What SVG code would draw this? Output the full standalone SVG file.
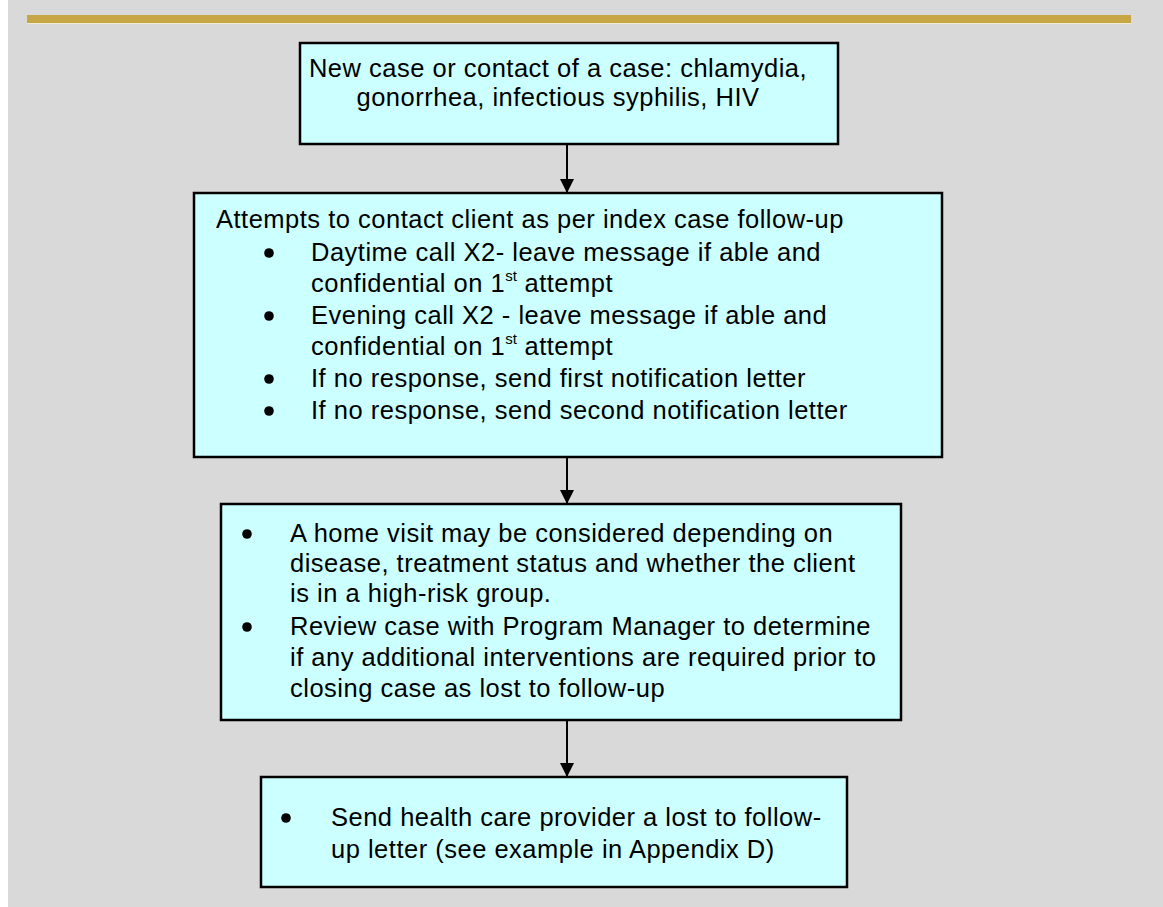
<svg xmlns="http://www.w3.org/2000/svg" width="1163" height="907" viewBox="0 0 1163 907">
<defs>
<style>
.box{fill:#ccffff;stroke:#000;stroke-width:2.5}
.t{font-family:"Liberation Sans",Arial,sans-serif;font-size:25.5px;letter-spacing:0.5px;fill:#000}
.c{text-anchor:middle}
.sup{font-size:15px;letter-spacing:0}
.blt{fill:#000}
.conn{stroke:#000;stroke-width:2;fill:none;marker-end:url(#ah)}
</style>
<marker id="ah" viewBox="0 0 10 10" refX="10" refY="5" markerWidth="7" markerHeight="7" markerUnits="strokeWidth" orient="auto">
<path d="M0,0 L10,5 L0,10 z" fill="#000"/>
</marker>
</defs>
<rect x="0" y="0" width="1163" height="907" fill="#ffffff"/>
<rect x="8" y="0" width="1155" height="907" fill="#d9d9d9"/>
<rect x="27" y="15" width="1104" height="8" fill="#c6a645"/>
<rect x="27" y="23" width="1104" height="1" fill="#efe9d2"/>

<g id="connectors">
<line class="conn" x1="567" y1="144" x2="567" y2="193"/>
<line class="conn" x1="567" y1="457" x2="567" y2="504"/>
<line class="conn" x1="567" y1="720" x2="567" y2="777"/>
</g>

<g id="node1">
<rect class="box" x="300" y="43" width="538" height="101"/>
<text class="t c" x="558" y="77">New case or contact of a case: chlamydia,</text>
<text class="t c" x="558" y="106">gonorrhea, infectious syphilis, HIV</text>
</g>

<g id="node2">
<rect class="box" x="194" y="193" width="748" height="264"/>
<text class="t" x="216" y="228">Attempts to contact client as per index case follow-up</text>
<circle class="blt" cx="269" cy="253" r="4.8"/>
<text class="t" x="311" y="261">Daytime call X2- leave message if able and</text>
<text class="t" x="311" y="292">confidential on 1<tspan class="sup" dy="-11">st</tspan><tspan dy="11"> attempt</tspan></text>
<circle class="blt" cx="269" cy="316" r="4.8"/>
<text class="t" x="311" y="324">Evening call X2 - leave message if able and</text>
<text class="t" x="311" y="355">confidential on 1<tspan class="sup" dy="-11">st</tspan><tspan dy="11"> attempt</tspan></text>
<circle class="blt" cx="269" cy="379" r="4.8"/>
<text class="t" x="311" y="387">If no response, send first notification letter</text>
<circle class="blt" cx="269" cy="411" r="4.8"/>
<text class="t" x="311" y="419">If no response, send second notification letter</text>
</g>

<g id="node3">
<rect class="box" x="221" y="504" width="680" height="216"/>
<circle class="blt" cx="247" cy="534" r="4.8"/>
<text class="t" x="290" y="542">A home visit may be considered depending on</text>
<text class="t" x="290" y="572">disease, treatment status and whether the client</text>
<text class="t" x="290" y="602">is in a high-risk group.</text>
<circle class="blt" cx="247" cy="627" r="4.8"/>
<text class="t" x="290" y="635">Review case with Program Manager to determine</text>
<text class="t" x="290" y="666">if any additional interventions are required prior to</text>
<text class="t" x="290" y="697">closing case as lost to follow-up</text>
</g>

<g id="node4">
<rect class="box" x="261" y="777" width="586" height="110"/>
<circle class="blt" cx="286" cy="818" r="4.8"/>
<text class="t" x="331" y="826">Send health care provider a lost to follow-</text>
<text class="t" x="331" y="858">up letter (see example in Appendix D)</text>
</g>
</svg>
